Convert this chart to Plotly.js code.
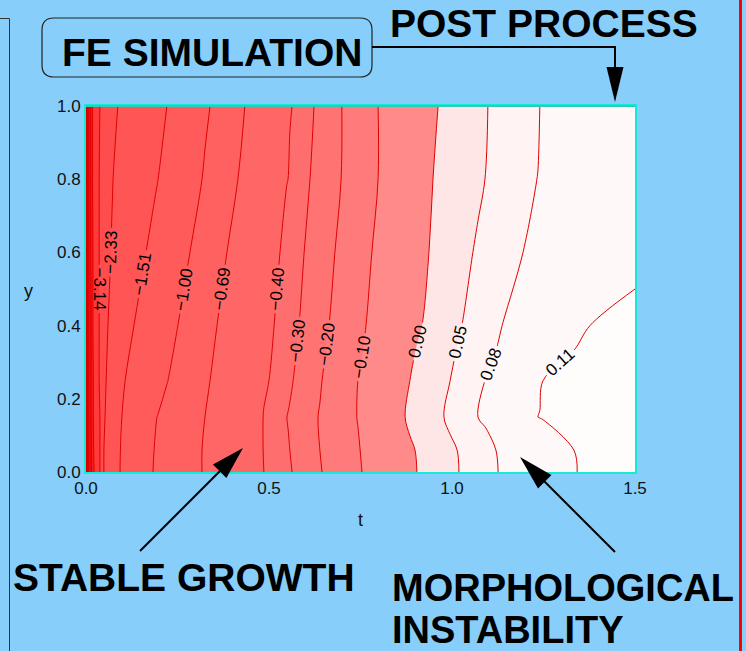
<!DOCTYPE html>
<html><head><meta charset="utf-8">
<script src="https://cdn.plot.ly/plotly-3.0.1.min.js"></script>
<style>html,body{margin:0;padding:0;background:#87cefa;overflow:hidden}#chart{width:746px;height:651px}</style>
</head><body><div id="chart"></div>
<script>
// ---------- DATA ----------
// rows of the field (y) at which the contour crossings were read
const rowY = [0, 0.06, 0.15, 0.25, 0.40, 0.60, 0.80, 1.0];
// contour levels (first four are unlabelled lines hugging t = 0)
const levels = [-7.5, -6.0, -4.8, -3.9, -3.14, -2.33, -1.51, -1.00, -0.69, -0.40, -0.30, -0.20, -0.10, 0.00, 0.05, 0.08, 0.11];
const labelled = [false, false, false, false, true, true, true, true, true, true, true, true, true, true, true, true, true];
// t where each level crosses each row (null = no crossing in that row)
const cU1   = [0.003, 0.003, 0.003, 0.003, 0.003, 0.003, 0.003, 0.003];
const cU2   = [0.007, 0.007, 0.007, 0.007, 0.007, 0.007, 0.007, 0.007];
const cU3   = [0.015, 0.015, 0.014, 0.014, 0.014, 0.013, 0.013, 0.013];
const cU4   = [0.022, 0.021, 0.020, 0.020, 0.019, 0.019, 0.018, 0.018];
const cM314 = [0.038, 0.038, 0.038, 0.036, 0.036, 0.036, 0.036, 0.038];
const cM233 = [0.049, 0.049, 0.052, 0.055, 0.060, 0.068, 0.074, 0.087];
const cM151 = [0.093, 0.094, 0.098, 0.107, 0.131, 0.164, 0.197, 0.221];
const cM100 = [0.183, 0.186, 0.194, 0.224, 0.251, 0.284, 0.317, 0.339];
const cM069 = [0.317, 0.317, 0.325, 0.339, 0.358, 0.385, 0.415, 0.434];
const cM040 = [0.486, 0.484, 0.484, 0.500, 0.514, 0.530, 0.552, 0.563];
const cM030 = [0.563, 0.557, 0.549, 0.566, 0.582, 0.596, 0.612, 0.623];
const cM020 = [0.645, 0.639, 0.634, 0.645, 0.664, 0.680, 0.697, 0.699];
const cM010 = [0.754, 0.749, 0.740, 0.743, 0.765, 0.781, 0.798, 0.798];
const cP000 = [0.904, 0.899, 0.872, 0.885, 0.918, 0.937, 0.948, 0.962];
const cP005 = [1.019, 1.014, 0.978, 0.995, 1.027, 1.057, 1.090, 1.098];
const cP008 = [1.126, 1.120, 1.071, 1.090, 1.137, 1.194, 1.232, 1.240];
const cP011 = [1.342, 1.333, 1.235, 1.249, 1.377, null, null, null];
// field value on the left (t=0) and right (t=1.5) edges of each row
const edgeLeft  = [-9, -9, -9, -9, -9, -9, -9, -9];
const edgeRight = [0.125, 0.125, 0.13, 0.13, 0.12, 0.10, 0.095, 0.095];
// fill colour of each band (below first level ... above last level)
const bandColors = ['#c80000', '#dc0000', '#ec0c0c', '#f81e1e', '#ff3a3a', '#ff4c4c', '#ff5555', '#ff5b5b',
  '#ff6161', '#ff6767', '#ff6e6e', '#ff7373', '#ff7a7a', '#ff8a8a', '#ffe6e6', '#fff3f3', '#fff8f8', '#fffcfc'];
const xTicks = [0, 0.5, 1.0, 1.5];
const xTickText = ['0.0', '0.5', '1.0', '1.5'];
const yTicks = [0, 0.2, 0.4, 0.6, 0.8, 1.0];
const yTickText = ['0.0', '0.2', '0.4', '0.6', '0.8', '1.0'];
const tMin = 0, tMax = 1.5;

// ---------- build the grid Plotly needs ----------
const crossings = [cU1, cU2, cU3, cU4, cM314, cM233, cM151, cM100, cM069, cM040, cM030, cM020, cM010, cP000, cP005, cP008, cP011];
const nL = levels.length;
function idx(z) {
  if (z <= levels[0]) return (z - levels[0]) / (levels[1] - levels[0]);
  if (z >= levels[nL - 1]) return nL - 1 + (z - levels[nL - 1]) / (levels[nL - 1] - levels[nL - 2]);
  for (let k = 0; k < nL - 1; k++) if (z <= levels[k + 1]) return k + (z - levels[k]) / (levels[k + 1] - levels[k]);
}
const colSet = new Set([tMin, tMax]);
crossings.forEach(c => c.forEach(v => { if (v !== null) colSet.add(v); }));
const cols = Array.from(colSet).sort((a, b) => a - b);
const zIdx = rowY.map((y, j) => {
  const knots = [[tMin, idx(edgeLeft[j])]];
  crossings.forEach((c, k) => { if (c[j] !== null) knots.push([c[j], k]); });
  knots.push([tMax, idx(edgeRight[j])]);
  return cols.map(t => {
    for (let i = 0; i < knots.length - 1; i++) {
      const a = knots[i], b = knots[i + 1];
      if (t >= a[0] && t <= b[0]) return b[0] === a[0] ? a[1] : a[1] + (b[1] - a[1]) * (t - a[0]) / (b[0] - a[0]);
    }
    return knots[knots.length - 1][1];
  });
});

const LINE = '#e00000';
const FONT = 'Liberation Sans, Arial, Helvetica, sans-serif';
const traces = [];
traces.push({
  type: 'contour', x: cols, y: rowY, z: zIdx, autocontour: false,
  contours: {start: 0, end: nL - 1, size: 1, coloring: 'fill', showlines: false},
  colorscale: bandColors.map((c, k) => [k / (bandColors.length - 1), c]),
  showscale: false, line: {width: 0}, hoverinfo: 'skip'
});
traces.push({
  type: 'contour', x: cols, y: rowY, z: zIdx, autocontour: false,
  contours: {start: 0, end: 3, size: 1, coloring: 'none', showlabels: false},
  line: {color: LINE, width: 1}, showscale: false, hoverinfo: 'skip'
});
levels.forEach((L, k) => {
  if (!labelled[k]) return;
  traces.push({
    type: 'contour', x: cols, y: rowY, z: zIdx.map(r => r.map(v => v - k + L)), autocontour: false,
    contours: {start: L, end: L, size: 1, coloring: 'none', showlabels: true, labelformat: '.2f',
      labelfont: {family: FONT, size: 17, color: '#000'}},
    line: {color: LINE, width: 1}, showscale: false, hoverinfo: 'skip'
  });
});

// ---------- decoration (pixel helpers) ----------
const PL = 86, PR = 635, PT = 106, PB = 472;
const px = x => (x - PL) / (PR - PL);
const py = y => (PB - y) / (PB - PT);
const pt = (x, y) => px(x) + ',' + py(y);
function poly(pts, close) { return pts.map((p, i) => (i ? 'L' : 'M') + pt(p[0], p[1])).join(' ') + (close ? ' Z' : ''); }
function rrect(x0, y0, x1, y1, r) {
  return 'M' + pt(x0 + r, y0) + ' L' + pt(x1 - r, y0) + ' Q' + pt(x1, y0) + ' ' + pt(x1, y0 + r) +
    ' L' + pt(x1, y1 - r) + ' Q' + pt(x1, y1) + ' ' + pt(x1 - r, y1) +
    ' L' + pt(x0 + r, y1) + ' Q' + pt(x0, y1) + ' ' + pt(x0, y1 - r) +
    ' L' + pt(x0, y0 + r) + ' Q' + pt(x0, y0) + ' ' + pt(x0 + r, y0) + ' Z';
}
function arrowHead(tx, ty, fx, fy, len, half) {
  const dx = tx - fx, dy = ty - fy, d = Math.hypot(dx, dy), ux = dx / d, uy = dy / d;
  const bx = tx - ux * len, by = ty - uy * len;
  return poly([[tx, ty], [bx - uy * half, by + ux * half], [bx + uy * half, by - ux * half]], true);
}
const sh = (path, extra) => Object.assign({type: 'path', xref: 'paper', yref: 'paper', path: path, layer: 'above',
  line: {color: '#000', width: 2}}, extra || {});
const shapes = [
  sh(rrect(42, 18, 372, 77, 12), {line: {color: '#222', width: 1.2}}),
  sh(poly([[372, 47], [615, 47], [615, 72]])),
  sh(arrowHead(615, 102, 615, 47, 35, 8.5), {fillcolor: '#000', line: {width: 0}}),
  sh(poly([[140, 551], [224, 467]])),
  sh(arrowHead(243, 448, 140, 551, 33, 9.5), {fillcolor: '#000', line: {width: 0}}),
  sh(poly([[615, 552], [540, 477]])),
  sh(arrowHead(520, 457, 615, 552, 35, 9.5), {fillcolor: '#000', line: {width: 0}}),
  sh(poly([[0, 18.5], [9.5, 18.5], [9.5, 651]]), {line: {color: '#333', width: 1}}),
  sh(poly([[740.5, 0], [740.5, 651]]), {line: {color: '#ff0000', width: 3}}),
  sh(poly([[PL, PT], [PR, PT]]), {line: {color: '#33c9b6', width: 2}})
];
const big = {family: FONT, size: 39, color: '#000', weight: 700};
const ann = (text, x, y, xanchor, size) => ({text: text, xref: 'paper', yref: 'paper', x: px(x), y: py(y),
  xanchor: xanchor || 'center', yanchor: 'middle', showarrow: false, borderpad: 0,
  font: Object.assign({}, big, size ? {size: size} : {})});
const annotations = [
  ann('FE SIMULATION', 212, 53),
  ann('POST PROCESS', 544, 24),
  ann('STABLE GROWTH', 184, 577),
  ann('MORPHOLOGICAL', 391, 587.5, 'left', 38),
  ann('INSTABILITY', 391, 629.5, 'left', 38),
  {text: 'y', xref: 'paper', yref: 'paper', x: px(28), y: py(291), xanchor: 'center', yanchor: 'middle',
    showarrow: false, font: {family: FONT, size: 18, color: '#111'}}
];

const axisCommon = {ticks: '', showgrid: false, zeroline: false, showline: true, mirror: true,
  linecolor: '#14ead8', linewidth: 2, tickfont: {family: FONT, size: 17, color: '#111'}};
const layout = {
  width: 746, height: 651, margin: {l: PL, r: 746 - PR, t: PT, b: 651 - PB, pad: 0},
  paper_bgcolor: '#87cefa', plot_bgcolor: '#ffffff', showlegend: false,
  font: {family: FONT, color: '#111'},
  xaxis: Object.assign({}, axisCommon, {range: [tMin, tMax], tickvals: xTicks, ticktext: xTickText,
    title: {text: 't', font: {family: FONT, size: 18, color: '#111'}, standoff: 16}}),
  yaxis: Object.assign({}, axisCommon, {range: [0, 1], tickvals: yTicks, ticktext: yTickText}),
  shapes: shapes, annotations: annotations
};
Plotly.newPlot('chart', traces, layout, {staticPlot: true, displayModeBar: false});
</script></body></html>
